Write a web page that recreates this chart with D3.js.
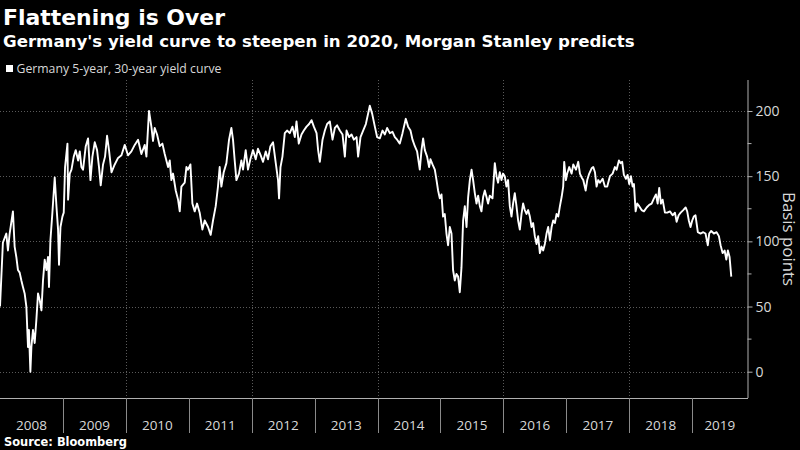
<!DOCTYPE html>
<html><head><meta charset="utf-8">
<script src="https://cdn.jsdelivr.net/npm/d3@7"></script>
<style>html,body{margin:0;padding:0;background:#000;} svg{display:block}</style>
</head><body>
<svg id="c" width="800" height="450"></svg>
<script>
const title = "Flattening is Over";
const subtitle = "Germany's yield curve to steepen in 2020, Morgan Stanley predicts";
const seriesName = "Germany 5-year, 30-year yield curve";
const source = "Source: Bloomberg";
const yAxisTitle = "Basis points";
const yearLabels = [2008,2009,2010,2011,2012,2013,2014,2015,2016,2017,2018,2019];
const gridYears = [2010,2012,2014,2016,2018];
const yTicks = [0,50,100,150,200];
const yMinorTicks = [25,75,125,175];

// decimal-year dates of the readings
const dates = [
2008.000,2008.046,2008.100,2008.126,2008.153,2008.205,2008.232,2008.259,2008.285,2008.312,2008.339,2008.364,2008.391,2008.418,2008.444,2008.459,2008.482,2008.498,2008.523,2008.550,2008.577,2008.603,2008.630,2008.657,2008.682,2008.709,2008.736,2008.762,2008.777,2008.800,2008.831,2008.868,2008.895,2008.921,2008.936,2008.959,2008.990,
2009.011,2009.032,2009.070,2009.080,2009.107,2009.134,2009.170,2009.202,2009.239,2009.266,2009.292,2009.318,2009.361,2009.398,2009.436,2009.467,2009.504,2009.541,2009.572,2009.599,2009.636,2009.668,2009.700,2009.731,2009.770,2009.822,2009.875,2009.929,2009.981,
2010.033,2010.087,2010.140,2010.193,2010.246,2010.299,2010.326,2010.367,2010.405,2010.431,2010.458,2010.495,2010.538,2010.580,2010.617,2010.670,2010.697,2010.723,2010.749,2010.792,2010.829,2010.856,2010.882,2010.935,2010.962,2010.987,
2011.026,2011.057,2011.094,2011.131,2011.173,2011.216,2011.253,2011.306,2011.348,2011.385,2011.428,2011.464,2011.491,2011.518,2011.555,2011.598,2011.640,2011.677,2011.703,2011.730,2011.757,2011.798,2011.836,2011.862,2011.905,2011.941,2011.979,
2012.021,2012.064,2012.100,2012.143,2012.180,2012.223,2012.259,2012.297,2012.339,2012.382,2012.418,2012.434,2012.457,2012.488,2012.525,2012.561,2012.604,2012.647,2012.684,2012.711,2012.747,2012.790,2012.827,2012.870,2012.911,2012.949,2012.986,
2013.029,2013.054,2013.081,2013.124,2013.161,2013.197,2013.240,2013.283,2013.320,2013.356,2013.399,2013.442,2013.479,2013.506,2013.547,2013.585,2013.622,2013.665,2013.690,2013.728,2013.770,2013.813,2013.849,2013.876,2013.913,2013.956,2013.992,
2014.035,2014.078,2014.115,2014.151,2014.194,2014.237,2014.274,2014.310,2014.353,2014.396,2014.448,2014.485,2014.523,2014.555,2014.592,2014.628,2014.671,2014.698,2014.724,2014.751,2014.787,2014.819,2014.841,2014.873,2014.910,2014.937,2014.962,2014.989,
2015.016,2015.041,2015.068,2015.095,2015.121,2015.148,2015.175,2015.200,2015.227,2015.254,2015.280,2015.307,2015.334,2015.360,2015.387,2015.414,2015.440,2015.467,2015.494,2015.519,2015.546,2015.573,2015.599,2015.626,2015.652,2015.678,2015.705,2015.732,2015.757,2015.784,2015.827,2015.864,2015.891,2015.916,2015.943,2015.970,2015.995,
2016.022,2016.049,2016.075,2016.102,2016.129,2016.154,2016.181,2016.208,2016.234,2016.261,2016.288,2016.313,2016.340,2016.367,2016.393,2016.420,2016.447,2016.472,2016.499,2016.526,2016.552,2016.579,2016.606,2016.631,2016.658,2016.685,2016.711,2016.738,2016.765,2016.790,2016.817,2016.844,2016.870,2016.897,2016.924,2016.949,2016.965,2016.992,
2017.013,2017.045,2017.083,2017.109,2017.152,2017.188,2017.215,2017.242,2017.268,2017.306,2017.331,2017.363,2017.401,2017.427,2017.454,2017.480,2017.506,2017.533,2017.576,2017.612,2017.649,2017.692,2017.735,2017.771,2017.798,2017.835,2017.862,2017.887,2017.914,2017.946,2017.973,2017.999,
2018.026,2018.053,2018.074,2018.101,2018.126,2018.158,2018.196,2018.233,2018.276,2018.317,2018.355,2018.392,2018.424,2018.451,2018.476,2018.503,2018.530,2018.567,2018.604,2018.647,2018.689,2018.726,2018.753,2018.785,2018.817,2018.858,2018.896,2018.921,2018.947,2018.974,
2019.001,2019.026,2019.053,2019.090,2019.133,2019.176,2019.212,2019.249,2019.271,2019.303,2019.345,2019.388,2019.425,2019.452,2019.484,2019.516,2019.543,2019.568,2019.595,2019.622
];
// curve in basis points
const curve = [
50,99,106,93,106,123,96,88,78,76,70,65,60,50,19,32,0,19,32,22,40,60,55,47,70,86,78,88,65,101,122,149,127,109,82,111,119,
122,157,175,132,152,155,165,170,162,169,157,155,173,179,147,165,176,170,157,143,159,165,181,170,153,159,164,166,174,
166,169,174,178,167,174,165,200,188,177,187,182,173,175,167,157,162,147,152,139,132,123,142,145,157,155,
159,129,123,129,122,109,116,111,105,116,127,142,157,142,153,160,178,187,178,162,147,152,162,155,170,155,163,
170,163,171,166,161,169,163,173,176,160,147,133,157,165,183,185,183,188,180,192,175,182,185,188,190,193,188,
183,170,161,178,185,190,192,178,187,189,185,182,165,185,180,182,178,180,165,180,185,190,198,204,198,188,180,
179,185,182,187,183,184,180,178,175,183,194,188,185,178,173,169,155,170,179,170,165,157,163,159,155,147,139,133,
136,119,121,106,97,111,106,78,70,75,73,61,80,116,127,111,134,147,155,147,137,129,135,127,123,134,139,134,129,135,133,160,150,145,153,147,152,
150,142,147,127,119,129,137,127,116,109,121,129,124,121,124,119,111,114,104,98,104,91,96,93,98,106,111,101,111,116,114,121,119,127,134,142,161,147,
152,157,152,159,155,161,152,149,147,139,147,152,156,157,153,142,147,145,148,142,142,150,152,157,155,162,160,161,151,148,151,144,
150,142,144,123,129,127,124,123,126,128,129,133,136,129,141,129,132,122,122,123,120,122,115,120,122,124,126,123,116,111,
116,119,120,107,106,107,106,97,106,108,106,107,104,97,91,93,86,93,88,73
];

const W = 800, H = 450;
const plot = {left: 0, right: 747.5, top: 80, bottom: 398};
const labelFont = "'Open Sans', sans-serif";
const headFont = "'DejaVu Sans', sans-serif";

function toDate(d) {
  const y = Math.floor(d), f = d - y;
  const a = Date.UTC(y, 0, 1), b = Date.UTC(y + 1, 0, 1);
  return new Date(a + f * (b - a));
}
// scale the font-size of a text so that it spans the target width
function fitWidth(sel, target) {
  const n = sel.node();
  const fs = parseFloat(sel.style("font-size"));
  const w = n.getComputedTextLength();
  if (w > 0) sel.style("font-size", (fs * target / w).toFixed(2) + "px");
  return sel;
}
const data = dates.map((d, i) => ({date: toDate(d), v: curve[i]}));

const svg = d3.select("#c");
svg.append("rect").attr("width", W).attr("height", H).attr("fill", "#000");

const x = d3.scaleUtc().domain([toDate(2008.0), toDate(2019.88)]).range([plot.left, plot.right]);
const y = d3.scaleLinear().domain([0, 200]).range([371.7, 111]);

// gridlines
const grid = svg.append("g").attr("stroke", "#5a5a5a").attr("stroke-width", 1).attr("stroke-dasharray", "1,2");
grid.selectAll("line.h").data(yTicks).join("line").attr("class","h")
  .attr("x1", plot.left).attr("x2", plot.right)
  .attr("y1", d => Math.round(y(d)) + 0.5).attr("y2", d => Math.round(y(d)) + 0.5);
grid.selectAll("line.v").data(gridYears).join("line").attr("class","v")
  .attr("x1", d => Math.round(x(toDate(d))) + 0.5).attr("x2", d => Math.round(x(toDate(d))) + 0.5)
  .attr("y1", plot.top).attr("y2", plot.bottom);

// right axis
const yAxis = d3.axisRight(y).tickValues(yTicks).tickSize(5).tickPadding(3).tickFormat(d3.format("d"));
const ya = svg.append("g").attr("transform", `translate(${plot.right},0)`).call(yAxis);
ya.select(".domain").remove();
ya.append("line").attr("x1", 0.5).attr("x2", 0.5).attr("y1", plot.top).attr("y2", plot.bottom).attr("stroke", "#b0b0b0");
ya.selectAll(".tick line").attr("stroke", "#b0b0b0");
ya.selectAll(".tick text").attr("fill", "#d8d8d8").style("font-family", labelFont).style("font-size", "14px");
ya.selectAll("line.minor").data(yMinorTicks).join("line").attr("class","minor")
  .attr("x1", 0).attr("x2", 4).attr("y1", d => y(d)).attr("y2", d => y(d)).attr("stroke", "#b0b0b0");

const yt = svg.append("text").attr("transform", `translate(783,239) rotate(90)`)
  .attr("text-anchor", "middle").attr("fill", "#d8d8d8")
  .style("font-family", labelFont).style("font-size", "14px").text(yAxisTitle);
fitWidth(yt, 94);

// bottom axis
const xa = svg.append("g");
xa.append("line").attr("x1", plot.left).attr("x2", plot.right + 0.5).attr("y1", plot.bottom + 0.5).attr("y2", plot.bottom + 0.5).attr("stroke", "#b0b0b0");
xa.selectAll("line.sep").data(yearLabels.slice(1)).join("line").attr("class","sep")
  .attr("x1", d => Math.round(x(toDate(d))) + 0.5).attr("x2", d => Math.round(x(toDate(d))) + 0.5)
  .attr("y1", plot.bottom).attr("y2", 433).attr("stroke", "#8a8a8a");
xa.selectAll("text").data(yearLabels).join("text")
  .attr("x", d => (x(toDate(d)) + Math.min(plot.right, x(toDate(d + 1)))) / 2)
  .attr("y", 430).attr("text-anchor", "middle").attr("fill", "#d8d8d8")
  .style("font-family", labelFont).style("font-size", "13.5px").text(d => d);

// line
const line = d3.line().x(d => x(d.date)).y(d => y(d.v));
svg.append("path").datum(data).attr("d", line).attr("fill", "none")
  .attr("stroke", "#fff").attr("stroke-width", 1.9).attr("stroke-linejoin", "round");

// titles
const t1 = svg.append("text").attr("x", 3).attr("y", 25).attr("fill", "#fff")
  .style("font-family", headFont).style("font-weight", "bold").style("font-size", "22px").text(title);
fitWidth(t1, 222);
const t2 = svg.append("text").attr("x", 3).attr("y", 47).attr("fill", "#fff")
  .style("font-family", headFont).style("font-weight", "bold").style("font-size", "16px").text(subtitle);
fitWidth(t2, 632);
svg.append("rect").attr("x", 6).attr("y", 65).attr("width", 7).attr("height", 7).attr("fill", "#fff");
const lg = svg.append("text").attr("x", 16.5).attr("y", 73).attr("fill", "#d8d8d8")
  .style("font-family", labelFont).style("font-size", "12px").text(seriesName);
fitWidth(lg, 205);
const src = svg.append("text").attr("x", 4).attr("y", 446).attr("fill", "#fff")
  .style("font-family", headFont).style("font-weight", "bold").style("font-size", "12px").text(source);
fitWidth(src, 123);
</script>
</body></html>
